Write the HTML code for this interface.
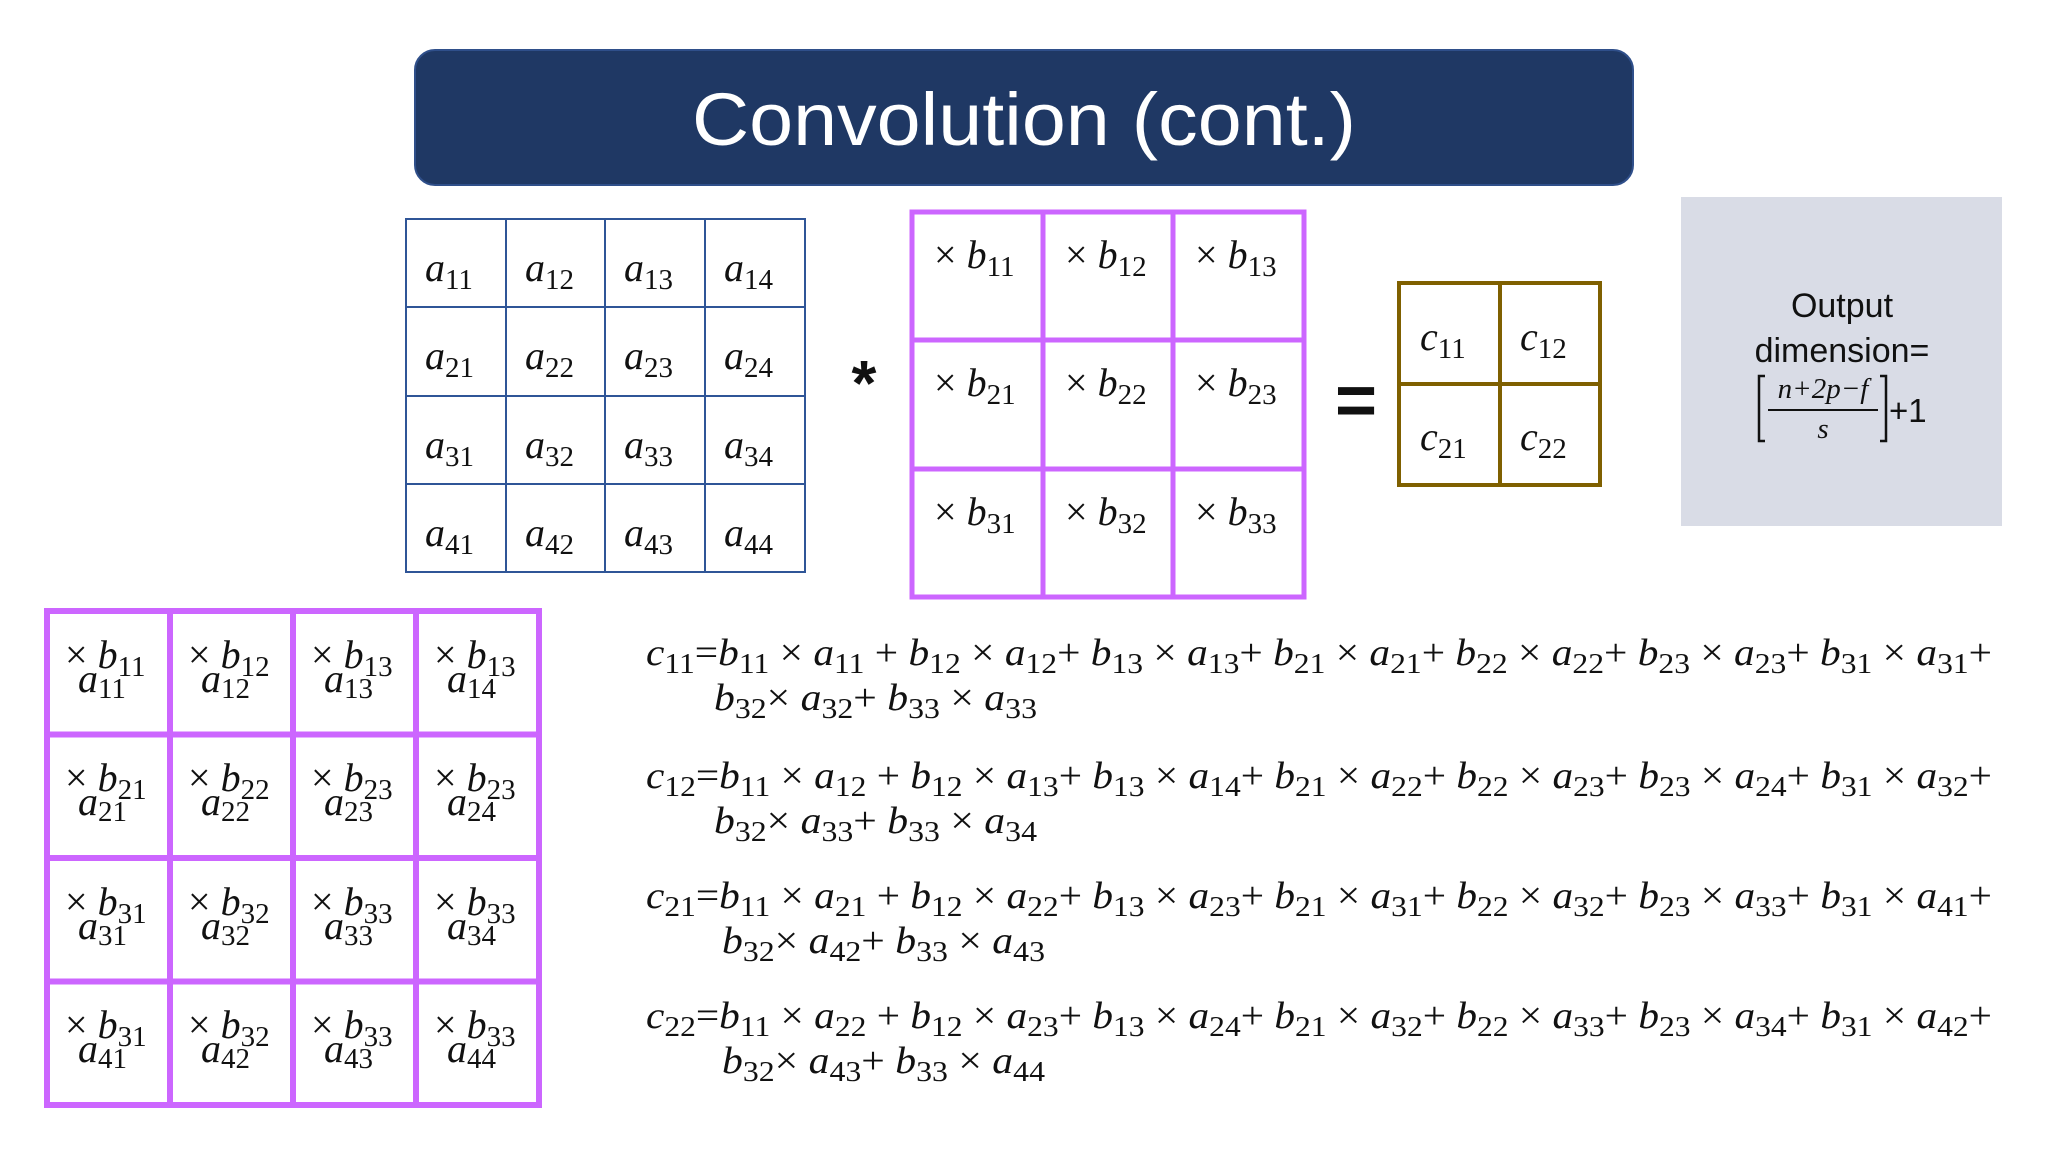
<!DOCTYPE html>
<html><head><meta charset="utf-8"><style>
html,body{margin:0;padding:0;background:#fff;}
svg{display:block;}
text{font-family:"Liberation Serif",serif;fill:#111;}
.i{font-style:italic;}
.s{font-size:29px;font-style:normal;}
</style></head><body>
<svg width="2048" height="1152" viewBox="0 0 2048 1152" xmlns="http://www.w3.org/2000/svg">
<rect x="415" y="50" width="1218" height="135" rx="20" fill="#1f3864" stroke="#2f4f8a" stroke-width="2"/>
<text x="1024" y="145" text-anchor="middle" style="font-family:'Liberation Sans',sans-serif;fill:#fff;font-size:74px" textLength="664" lengthAdjust="spacingAndGlyphs">Convolution (cont.)</text>

<g stroke="#2f5597" stroke-width="2" fill="none">
<rect x="406" y="219" width="399" height="353"/>
<line x1="506" y1="219" x2="506" y2="572"/><line x1="605" y1="219" x2="605" y2="572"/><line x1="705" y1="219" x2="705" y2="572"/>
<line x1="406" y1="307" x2="805" y2="307"/><line x1="406" y1="396" x2="805" y2="396"/><line x1="406" y1="484" x2="805" y2="484"/>
</g>
<g style="font-size:40px">
<text x="425" y="281" class="i">a<tspan class="s" dy="8">11</tspan></text>
<text x="525" y="281" class="i">a<tspan class="s" dy="8">12</tspan></text>
<text x="624" y="281" class="i">a<tspan class="s" dy="8">13</tspan></text>
<text x="724" y="281" class="i">a<tspan class="s" dy="8">14</tspan></text>
<text x="425" y="369" class="i">a<tspan class="s" dy="8">21</tspan></text>
<text x="525" y="369" class="i">a<tspan class="s" dy="8">22</tspan></text>
<text x="624" y="369" class="i">a<tspan class="s" dy="8">23</tspan></text>
<text x="724" y="369" class="i">a<tspan class="s" dy="8">24</tspan></text>
<text x="425" y="458" class="i">a<tspan class="s" dy="8">31</tspan></text>
<text x="525" y="458" class="i">a<tspan class="s" dy="8">32</tspan></text>
<text x="624" y="458" class="i">a<tspan class="s" dy="8">33</tspan></text>
<text x="724" y="458" class="i">a<tspan class="s" dy="8">34</tspan></text>
<text x="425" y="546" class="i">a<tspan class="s" dy="8">41</tspan></text>
<text x="525" y="546" class="i">a<tspan class="s" dy="8">42</tspan></text>
<text x="624" y="546" class="i">a<tspan class="s" dy="8">43</tspan></text>
<text x="724" y="546" class="i">a<tspan class="s" dy="8">44</tspan></text>
</g>

<text x="864" y="405" text-anchor="middle" style="font-family:'Liberation Sans',sans-serif;font-size:64px;font-weight:bold">*</text>

<g stroke="#cc66ff" stroke-width="5" fill="none">
<rect x="912" y="212" width="392" height="385"/>
<line x1="1043" y1="212" x2="1043" y2="597"/><line x1="1173" y1="212" x2="1173" y2="597"/>
<line x1="912" y1="340" x2="1304" y2="340"/><line x1="912" y1="469" x2="1304" y2="469"/>
</g>
<g style="font-size:40px">
<text x="934" y="268">× <tspan class="i">b</tspan><tspan class="s" dy="8">11</tspan></text>
<text x="1065" y="268">× <tspan class="i">b</tspan><tspan class="s" dy="8">12</tspan></text>
<text x="1195" y="268">× <tspan class="i">b</tspan><tspan class="s" dy="8">13</tspan></text>
<text x="934" y="396">× <tspan class="i">b</tspan><tspan class="s" dy="8">21</tspan></text>
<text x="1065" y="396">× <tspan class="i">b</tspan><tspan class="s" dy="8">22</tspan></text>
<text x="1195" y="396">× <tspan class="i">b</tspan><tspan class="s" dy="8">23</tspan></text>
<text x="934" y="525">× <tspan class="i">b</tspan><tspan class="s" dy="8">31</tspan></text>
<text x="1065" y="525">× <tspan class="i">b</tspan><tspan class="s" dy="8">32</tspan></text>
<text x="1195" y="525">× <tspan class="i">b</tspan><tspan class="s" dy="8">33</tspan></text>
</g>

<text x="1356" y="425" text-anchor="middle" style="font-family:'Liberation Sans',sans-serif;font-size:72px;font-weight:bold">=</text>

<g stroke="#7f6000" stroke-width="4" fill="none">
<rect x="1399" y="283" width="201" height="202"/>
<line x1="1500" y1="283" x2="1500" y2="485"/><line x1="1399" y1="384" x2="1600" y2="384"/>
</g>
<g style="font-size:40px">
<text x="1420" y="350" class="i">c<tspan class="s" dy="8">11</tspan></text>
<text x="1520" y="350" class="i">c<tspan class="s" dy="8">12</tspan></text>
<text x="1420" y="450" class="i">c<tspan class="s" dy="8">21</tspan></text>
<text x="1520" y="450" class="i">c<tspan class="s" dy="8">22</tspan></text>
</g>

<rect x="1681" y="197" width="321" height="329" fill="#d9dce6"/>
<text x="1842" y="317" text-anchor="middle" style="font-family:'Liberation Sans',sans-serif;font-size:34px">Output</text>
<text x="1842" y="362" text-anchor="middle" style="font-family:'Liberation Sans',sans-serif;font-size:34px">dimension=</text>
<g stroke="#111" stroke-width="2.5" fill="none">
<polyline points="1765,376 1759,376 1759,441 1765,441"/>
<polyline points="1880,376 1886,376 1886,441 1880,441"/>
<line x1="1768" y1="410" x2="1878" y2="410" stroke-width="2"/>
</g>
<text x="1823" y="398" text-anchor="middle" style="font-size:29px" class="i">n+2p−f</text>
<text x="1823" y="438" text-anchor="middle" style="font-size:29px" class="i">s</text>
<text x="1889" y="422" style="font-family:'Liberation Sans',sans-serif;font-size:33px">+1</text>

<g stroke="#cc66ff" stroke-width="6" fill="none">
<rect x="47" y="611" width="492" height="494"/>
<line x1="170" y1="611" x2="170" y2="1105"/><line x1="293" y1="611" x2="293" y2="1105"/><line x1="416" y1="611" x2="416" y2="1105"/>
<line x1="47" y1="734.5" x2="539" y2="734.5"/><line x1="47" y1="858" x2="539" y2="858"/><line x1="47" y1="981.5" x2="539" y2="981.5"/>
</g>
<g style="font-size:40px">
<text x="65" y="668">× <tspan class="i">b</tspan><tspan class="s" dy="8">11</tspan></text><text x="78" y="692" class="i">a<tspan class="s" dy="6">11</tspan></text>
<text x="188" y="668">× <tspan class="i">b</tspan><tspan class="s" dy="8">12</tspan></text><text x="201" y="692" class="i">a<tspan class="s" dy="6">12</tspan></text>
<text x="311" y="668">× <tspan class="i">b</tspan><tspan class="s" dy="8">13</tspan></text><text x="324" y="692" class="i">a<tspan class="s" dy="6">13</tspan></text>
<text x="434" y="668">× <tspan class="i">b</tspan><tspan class="s" dy="8">13</tspan></text><text x="447" y="692" class="i">a<tspan class="s" dy="6">14</tspan></text>

<text x="65" y="791">× <tspan class="i">b</tspan><tspan class="s" dy="8">21</tspan></text><text x="78" y="815" class="i">a<tspan class="s" dy="6">21</tspan></text>
<text x="188" y="791">× <tspan class="i">b</tspan><tspan class="s" dy="8">22</tspan></text><text x="201" y="815" class="i">a<tspan class="s" dy="6">22</tspan></text>
<text x="311" y="791">× <tspan class="i">b</tspan><tspan class="s" dy="8">23</tspan></text><text x="324" y="815" class="i">a<tspan class="s" dy="6">23</tspan></text>
<text x="434" y="791">× <tspan class="i">b</tspan><tspan class="s" dy="8">23</tspan></text><text x="447" y="815" class="i">a<tspan class="s" dy="6">24</tspan></text>

<text x="65" y="915">× <tspan class="i">b</tspan><tspan class="s" dy="8">31</tspan></text><text x="78" y="939" class="i">a<tspan class="s" dy="6">31</tspan></text>
<text x="188" y="915">× <tspan class="i">b</tspan><tspan class="s" dy="8">32</tspan></text><text x="201" y="939" class="i">a<tspan class="s" dy="6">32</tspan></text>
<text x="311" y="915">× <tspan class="i">b</tspan><tspan class="s" dy="8">33</tspan></text><text x="324" y="939" class="i">a<tspan class="s" dy="6">33</tspan></text>
<text x="434" y="915">× <tspan class="i">b</tspan><tspan class="s" dy="8">33</tspan></text><text x="447" y="939" class="i">a<tspan class="s" dy="6">34</tspan></text>

<text x="65" y="1038">× <tspan class="i">b</tspan><tspan class="s" dy="8">31</tspan></text><text x="78" y="1062" class="i">a<tspan class="s" dy="6">41</tspan></text>
<text x="188" y="1038">× <tspan class="i">b</tspan><tspan class="s" dy="8">32</tspan></text><text x="201" y="1062" class="i">a<tspan class="s" dy="6">42</tspan></text>
<text x="311" y="1038">× <tspan class="i">b</tspan><tspan class="s" dy="8">33</tspan></text><text x="324" y="1062" class="i">a<tspan class="s" dy="6">43</tspan></text>
<text x="434" y="1038">× <tspan class="i">b</tspan><tspan class="s" dy="8">33</tspan></text><text x="447" y="1062" class="i">a<tspan class="s" dy="6">44</tspan></text>
</g>

<g style="font-size:38px">
<text x="646" y="665" textLength="1346" lengthAdjust="spacingAndGlyphs"><tspan class="i">c</tspan><tspan class="s" dy="8">11</tspan><tspan dy="-8">=</tspan><tspan class="i">b</tspan><tspan class="s" dy="8">11</tspan><tspan dy="-8"> × </tspan><tspan class="i">a</tspan><tspan class="s" dy="8">11</tspan><tspan dy="-8"> + </tspan><tspan class="i">b</tspan><tspan class="s" dy="8">12</tspan><tspan dy="-8"> × </tspan><tspan class="i">a</tspan><tspan class="s" dy="8">12</tspan><tspan dy="-8">+ </tspan><tspan class="i">b</tspan><tspan class="s" dy="8">13</tspan><tspan dy="-8"> × </tspan><tspan class="i">a</tspan><tspan class="s" dy="8">13</tspan><tspan dy="-8">+ </tspan><tspan class="i">b</tspan><tspan class="s" dy="8">21</tspan><tspan dy="-8"> × </tspan><tspan class="i">a</tspan><tspan class="s" dy="8">21</tspan><tspan dy="-8">+ </tspan><tspan class="i">b</tspan><tspan class="s" dy="8">22</tspan><tspan dy="-8"> × </tspan><tspan class="i">a</tspan><tspan class="s" dy="8">22</tspan><tspan dy="-8">+ </tspan><tspan class="i">b</tspan><tspan class="s" dy="8">23</tspan><tspan dy="-8"> × </tspan><tspan class="i">a</tspan><tspan class="s" dy="8">23</tspan><tspan dy="-8">+ </tspan><tspan class="i">b</tspan><tspan class="s" dy="8">31</tspan><tspan dy="-8"> × </tspan><tspan class="i">a</tspan><tspan class="s" dy="8">31</tspan><tspan dy="-8">+</tspan></text>
<text x="714" y="710" textLength="323" lengthAdjust="spacingAndGlyphs"><tspan class="i">b</tspan><tspan class="s" dy="8">32</tspan><tspan dy="-8">× </tspan><tspan class="i">a</tspan><tspan class="s" dy="8">32</tspan><tspan dy="-8">+ </tspan><tspan class="i">b</tspan><tspan class="s" dy="8">33</tspan><tspan dy="-8"> × </tspan><tspan class="i">a</tspan><tspan class="s" dy="8">33</tspan></text>

<text x="646" y="788" textLength="1346" lengthAdjust="spacingAndGlyphs"><tspan class="i">c</tspan><tspan class="s" dy="8">12</tspan><tspan dy="-8">=</tspan><tspan class="i">b</tspan><tspan class="s" dy="8">11</tspan><tspan dy="-8"> × </tspan><tspan class="i">a</tspan><tspan class="s" dy="8">12</tspan><tspan dy="-8"> + </tspan><tspan class="i">b</tspan><tspan class="s" dy="8">12</tspan><tspan dy="-8"> × </tspan><tspan class="i">a</tspan><tspan class="s" dy="8">13</tspan><tspan dy="-8">+ </tspan><tspan class="i">b</tspan><tspan class="s" dy="8">13</tspan><tspan dy="-8"> × </tspan><tspan class="i">a</tspan><tspan class="s" dy="8">14</tspan><tspan dy="-8">+ </tspan><tspan class="i">b</tspan><tspan class="s" dy="8">21</tspan><tspan dy="-8"> × </tspan><tspan class="i">a</tspan><tspan class="s" dy="8">22</tspan><tspan dy="-8">+ </tspan><tspan class="i">b</tspan><tspan class="s" dy="8">22</tspan><tspan dy="-8"> × </tspan><tspan class="i">a</tspan><tspan class="s" dy="8">23</tspan><tspan dy="-8">+ </tspan><tspan class="i">b</tspan><tspan class="s" dy="8">23</tspan><tspan dy="-8"> × </tspan><tspan class="i">a</tspan><tspan class="s" dy="8">24</tspan><tspan dy="-8">+ </tspan><tspan class="i">b</tspan><tspan class="s" dy="8">31</tspan><tspan dy="-8"> × </tspan><tspan class="i">a</tspan><tspan class="s" dy="8">32</tspan><tspan dy="-8">+</tspan></text>
<text x="714" y="833" textLength="323" lengthAdjust="spacingAndGlyphs"><tspan class="i">b</tspan><tspan class="s" dy="8">32</tspan><tspan dy="-8">× </tspan><tspan class="i">a</tspan><tspan class="s" dy="8">33</tspan><tspan dy="-8">+ </tspan><tspan class="i">b</tspan><tspan class="s" dy="8">33</tspan><tspan dy="-8"> × </tspan><tspan class="i">a</tspan><tspan class="s" dy="8">34</tspan></text>

<text x="646" y="908" textLength="1346" lengthAdjust="spacingAndGlyphs"><tspan class="i">c</tspan><tspan class="s" dy="8">21</tspan><tspan dy="-8">=</tspan><tspan class="i">b</tspan><tspan class="s" dy="8">11</tspan><tspan dy="-8"> × </tspan><tspan class="i">a</tspan><tspan class="s" dy="8">21</tspan><tspan dy="-8"> + </tspan><tspan class="i">b</tspan><tspan class="s" dy="8">12</tspan><tspan dy="-8"> × </tspan><tspan class="i">a</tspan><tspan class="s" dy="8">22</tspan><tspan dy="-8">+ </tspan><tspan class="i">b</tspan><tspan class="s" dy="8">13</tspan><tspan dy="-8"> × </tspan><tspan class="i">a</tspan><tspan class="s" dy="8">23</tspan><tspan dy="-8">+ </tspan><tspan class="i">b</tspan><tspan class="s" dy="8">21</tspan><tspan dy="-8"> × </tspan><tspan class="i">a</tspan><tspan class="s" dy="8">31</tspan><tspan dy="-8">+ </tspan><tspan class="i">b</tspan><tspan class="s" dy="8">22</tspan><tspan dy="-8"> × </tspan><tspan class="i">a</tspan><tspan class="s" dy="8">32</tspan><tspan dy="-8">+ </tspan><tspan class="i">b</tspan><tspan class="s" dy="8">23</tspan><tspan dy="-8"> × </tspan><tspan class="i">a</tspan><tspan class="s" dy="8">33</tspan><tspan dy="-8">+ </tspan><tspan class="i">b</tspan><tspan class="s" dy="8">31</tspan><tspan dy="-8"> × </tspan><tspan class="i">a</tspan><tspan class="s" dy="8">41</tspan><tspan dy="-8">+</tspan></text>
<text x="722" y="953" textLength="323" lengthAdjust="spacingAndGlyphs"><tspan class="i">b</tspan><tspan class="s" dy="8">32</tspan><tspan dy="-8">× </tspan><tspan class="i">a</tspan><tspan class="s" dy="8">42</tspan><tspan dy="-8">+ </tspan><tspan class="i">b</tspan><tspan class="s" dy="8">33</tspan><tspan dy="-8"> × </tspan><tspan class="i">a</tspan><tspan class="s" dy="8">43</tspan></text>

<text x="646" y="1028" textLength="1346" lengthAdjust="spacingAndGlyphs"><tspan class="i">c</tspan><tspan class="s" dy="8">22</tspan><tspan dy="-8">=</tspan><tspan class="i">b</tspan><tspan class="s" dy="8">11</tspan><tspan dy="-8"> × </tspan><tspan class="i">a</tspan><tspan class="s" dy="8">22</tspan><tspan dy="-8"> + </tspan><tspan class="i">b</tspan><tspan class="s" dy="8">12</tspan><tspan dy="-8"> × </tspan><tspan class="i">a</tspan><tspan class="s" dy="8">23</tspan><tspan dy="-8">+ </tspan><tspan class="i">b</tspan><tspan class="s" dy="8">13</tspan><tspan dy="-8"> × </tspan><tspan class="i">a</tspan><tspan class="s" dy="8">24</tspan><tspan dy="-8">+ </tspan><tspan class="i">b</tspan><tspan class="s" dy="8">21</tspan><tspan dy="-8"> × </tspan><tspan class="i">a</tspan><tspan class="s" dy="8">32</tspan><tspan dy="-8">+ </tspan><tspan class="i">b</tspan><tspan class="s" dy="8">22</tspan><tspan dy="-8"> × </tspan><tspan class="i">a</tspan><tspan class="s" dy="8">33</tspan><tspan dy="-8">+ </tspan><tspan class="i">b</tspan><tspan class="s" dy="8">23</tspan><tspan dy="-8"> × </tspan><tspan class="i">a</tspan><tspan class="s" dy="8">34</tspan><tspan dy="-8">+ </tspan><tspan class="i">b</tspan><tspan class="s" dy="8">31</tspan><tspan dy="-8"> × </tspan><tspan class="i">a</tspan><tspan class="s" dy="8">42</tspan><tspan dy="-8">+</tspan></text>
<text x="722" y="1073" textLength="323" lengthAdjust="spacingAndGlyphs"><tspan class="i">b</tspan><tspan class="s" dy="8">32</tspan><tspan dy="-8">× </tspan><tspan class="i">a</tspan><tspan class="s" dy="8">43</tspan><tspan dy="-8">+ </tspan><tspan class="i">b</tspan><tspan class="s" dy="8">33</tspan><tspan dy="-8"> × </tspan><tspan class="i">a</tspan><tspan class="s" dy="8">44</tspan></text>
</g>
</svg>
</body></html>
